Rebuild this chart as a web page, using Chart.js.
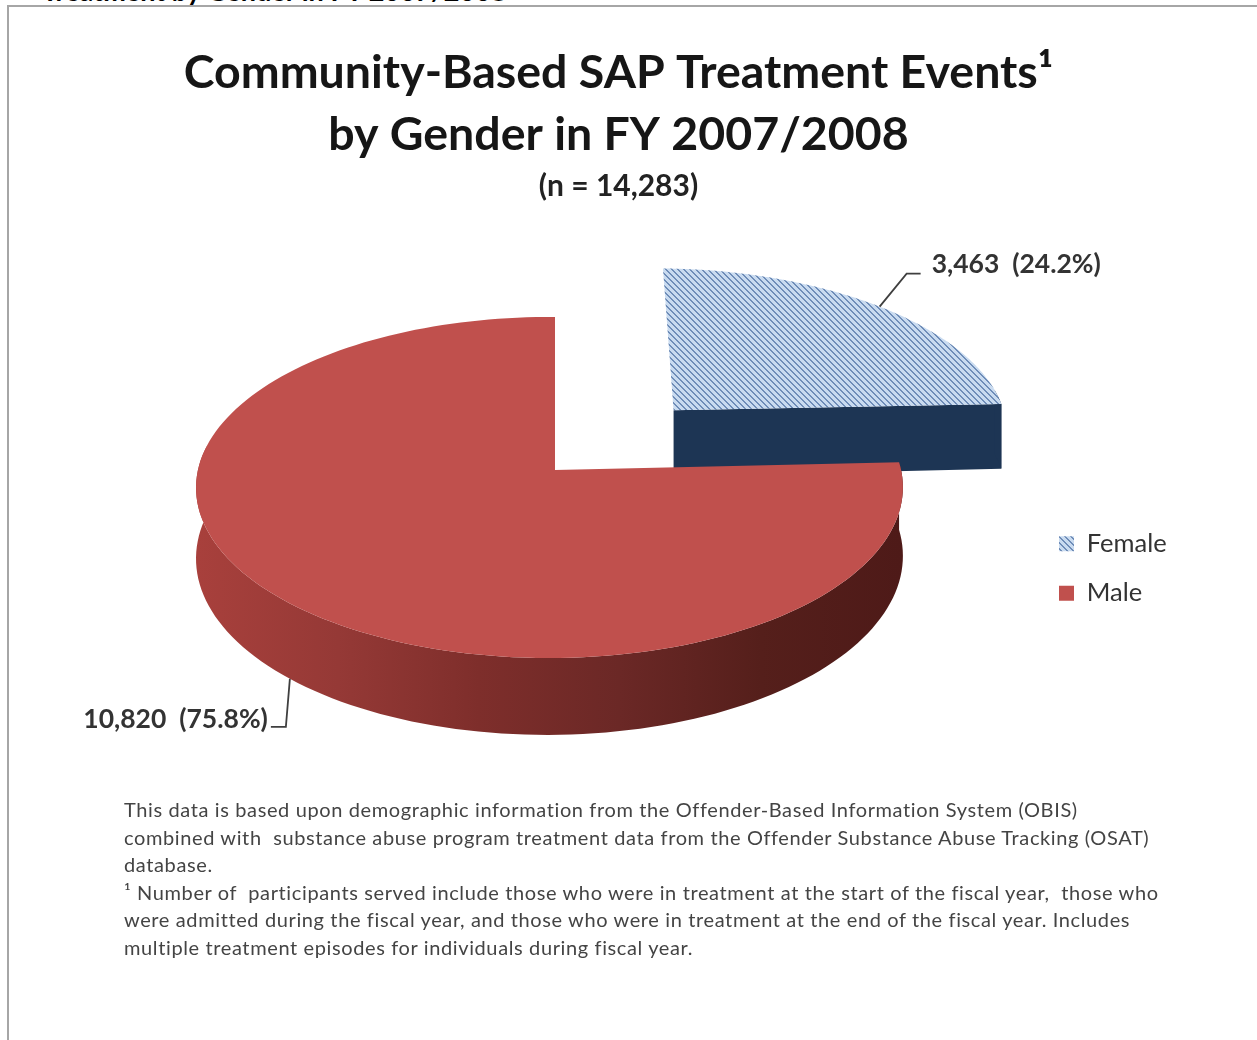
<!DOCTYPE html>
<html>
<head>
<meta charset="utf-8">
<title>Community-Based SAP Treatment Events</title>
<script src="https://cdn.jsdelivr.net/npm/chart.js@4"></script>
<style>
  html, body { margin: 0; padding: 0; background: #fff; }
  #page { position: relative; width: 1257px; height: 1040px; overflow: hidden; font-family: Lato, sans-serif; }
  #heading { position: absolute; left: 42px; top: -26px; font-size: 27px; font-weight: 700; color: #000; white-space: nowrap; }
  #frame { position: absolute; left: 7px; top: 5px; width: 1300px; height: 1100px; border: 2px solid #a6a6a6; box-sizing: border-box; }
  #chart { position: absolute; left: 0; top: 0; }
  .note { position: absolute; left: 124px; font-size: 20px; letter-spacing: 0.62px; line-height: 20px; color: #444; white-space: pre; }
</style>
</head>
<body>
<div id="page">
  <div id="heading">Treatment by Gender in FY 2007/2008</div>
  <div id="frame"></div>
  <canvas id="chart" width="1257" height="1040"></canvas>
  <div id="notes"></div>
</div>
<script>
const genderLabels = ["Female", "Male"];
const eventCounts = [3463, 10820];
const titleLines = ["Community-Based SAP Treatment Events¹", "by Gender in FY 2007/2008"];
const noteLines = [
  "This data is based upon demographic information from the Offender-Based Information System (OBIS)",
  "combined with  substance abuse program treatment data from the Offender Substance Abuse Tracking (OSAT)",
  "database.",
  "¹ Number of  participants served include those who were in treatment at the start of the fiscal year,  those who",
  "were admitted during the fiscal year, and those who were in treatment at the end of the fiscal year. Includes",
  "multiple treatment episodes for individuals during fiscal year."
];

// Projection of the tilted pie: unit circle on the table, then a homography onto the canvas
const view = { cx: 555, cy: 470, rx: 351.5, ry: 168.7, k: 0.1026, m: -0.0156, depth: 69 };
const explode = [0.51, 0];
const sideColors = ["#1d3554", "#7a2b28"];
const wallStops = ["#a8403c", "#953936", "#7e2e2b", "#6b2826", "#551f1b", "#4e1a18"];
const leaders = [
  { elbow: [27, -33], end: [14, 0], align: "left", gap: 11, lift: 9, depth: false },
  { elbow: [-4, 48], end: [-15, 0], align: "right", gap: -3, lift: 7, depth: true }
];

function project(u, v, drop) {
  const w = 1 - view.k * v - view.m * u;
  return { x: view.cx + view.rx * u / w, y: view.cy + (view.ry * v + (drop || 0)) / w };
}

// Diagonal hatch used for the Female slice and its legend swatch
function makeHatch() {
  const tile = document.createElement("canvas");
  tile.width = 6;
  tile.height = 6;
  const c = tile.getContext("2d");
  c.fillStyle = "#c9dbf0";
  c.fillRect(0, 0, 6, 6);
  c.fillStyle = "#6f8db8";
  for (let y = 0; y < 6; y++) {
    for (let x = 0; x < 6; x++) {
      if ((x - y + 6) % 6 < 2) c.fillRect(x, y, 1, 1);
    }
  }
  return document.createElement("canvas").getContext("2d").createPattern(tile, "repeat");
}

function sliceGeometry(el, i) {
  const p = el.getProps(["startAngle", "endAngle"], true);
  const mid = (p.startAngle + p.endAngle) / 2;
  const ou = explode[i] * Math.cos(mid);
  const ov = explode[i] * Math.sin(mid);
  const rim = [];
  const steps = 160;
  for (let s = 0; s <= steps; s++) {
    const a = p.startAngle + (p.endAngle - p.startAngle) * s / steps;
    rim.push([ou + Math.cos(a), ov + Math.sin(a)]);
  }
  return { mid, ou, ov, rim };
}

function fillPath(ctx, points, style) {
  ctx.beginPath();
  points.forEach((pt, n) => (n ? ctx.lineTo(pt.x, pt.y) : ctx.moveTo(pt.x, pt.y)));
  ctx.closePath();
  ctx.fillStyle = style;
  ctx.fill();
}

function wallFill(ctx, i) {
  if (i === 0) return sideColors[0];
  const grad = ctx.createLinearGradient(project(-1, 0).x, 0, project(1, 0).x, 0);
  wallStops.forEach((color, n) => grad.addColorStop(n / (wallStops.length - 1), color));
  return grad;
}

const tiltedPie = {
  id: "tiltedPie",
  // replaces the flat arcs with the extruded slices, back slice first
  beforeDatasetsDraw(chart) {
    const ctx = chart.ctx;
    const arcs = chart.getDatasetMeta(0).data;
    arcs.forEach((el, i) => {
      const g = sliceGeometry(el, i);
      const last = g.rim[g.rim.length - 1];
      // closing side wall, the only radial wall that faces the viewer
      fillPath(ctx, [
        project(g.ou, g.ov), project(last[0], last[1]),
        project(last[0], last[1], view.depth), project(g.ou, g.ov, view.depth)
      ], sideColors[i]);
      // outer wall, front of the rim plus a little past the widest point
      const front = g.rim.filter(pt => pt[1] >= g.ov - 0.15);
      if (front.length) {
        const near = front.map(pt => project(pt[0], pt[1]));
        const far = front.map(pt => project(pt[0], pt[1], view.depth)).reverse();
        fillPath(ctx, near.concat(far), wallFill(ctx, i));
      }
      // top face
      const top = g.rim.map(pt => project(pt[0], pt[1]));
      fillPath(ctx, [project(g.ou, g.ov)].concat(top), el.options.backgroundColor);
    });
    drawLeaders(chart);
    return false;
  },
  // puts the legend beside the pie instead of at the chart's far edge
  afterLayout(chart) {
    const lg = chart.legend;
    const w = lg.right - lg.left;
    lg.left = 1035;
    lg.right = lg.left + w;
    lg.top = 507;
    lg.bottom = 1000;
  }
};

function drawLeaders(chart) {
  const ctx = chart.ctx;
  const sum = eventCounts.reduce((a, b) => a + b, 0);
  chart.getDatasetMeta(0).data.forEach((el, i) => {
    const g = sliceGeometry(el, i);
    const leader = leaders[i];
    const u = g.ou + Math.cos(g.mid);
    const v = g.ov + Math.sin(g.mid);
    const start = project(u, v, leader.depth ? view.depth : 0);
    const ex = start.x + leader.elbow[0];
    const ey = start.y + leader.elbow[1];
    const tx = ex + leader.end[0];
    ctx.beginPath();
    ctx.moveTo(start.x, start.y);
    ctx.lineTo(ex, ey);
    ctx.lineTo(tx, ey);
    ctx.strokeStyle = "#3f3f3f";
    ctx.lineWidth = 1.8;
    ctx.stroke();
    const pct = (eventCounts[i] / sum * 100).toFixed(1);
    ctx.font = "700 26.5px Lato";
    ctx.fillStyle = "#333";
    ctx.textBaseline = "middle";
    ctx.textAlign = leader.align;
    ctx.fillText(eventCounts[i].toLocaleString("en-US") + "  (" + pct + "%)",
      tx + leader.gap, ey - leader.lift);
  });
}

const total = eventCounts.reduce((a, b) => a + b, 0);

new Chart(document.getElementById("chart"), {
  type: "pie",
  plugins: [tiltedPie],
  data: {
    labels: genderLabels,
    datasets: [{
      data: eventCounts,
      backgroundColor: [makeHatch(), "#c0504d"],
      borderWidth: 0
    }]
  },
  options: {
    responsive: false,
    animation: false,
    layout: { padding: { top: 42, right: 20 } },
    plugins: {
      tooltip: { enabled: false },
      title: {
        display: true,
        text: titleLines,
        color: "#161616",
        font: { family: "Lato", size: 46.5, weight: "700", lineHeight: 1.333 },
        padding: 0
      },
      subtitle: {
        display: true,
        text: "(n = " + total.toLocaleString("en-US") + ")",
        color: "#222",
        font: { family: "Lato", size: 30, weight: "700" },
        padding: { top: 2, bottom: 0 }
      },
      legend: {
        position: "right",
        align: "start",
        labels: {
          boxWidth: 15,
          boxHeight: 15,
          padding: 24,
          color: "#333",
          font: { family: "Lato", size: 25.5 }
        }
      }
    }
  }
});

// Footnote block under the chart
const notes = document.getElementById("notes");
noteLines.forEach((line, i) => {
  const div = document.createElement("div");
  div.className = "note";
  div.style.top = (799 + i * 27.6) + "px";
  div.textContent = line;
  notes.appendChild(div);
});
</script>
</body>
</html>
